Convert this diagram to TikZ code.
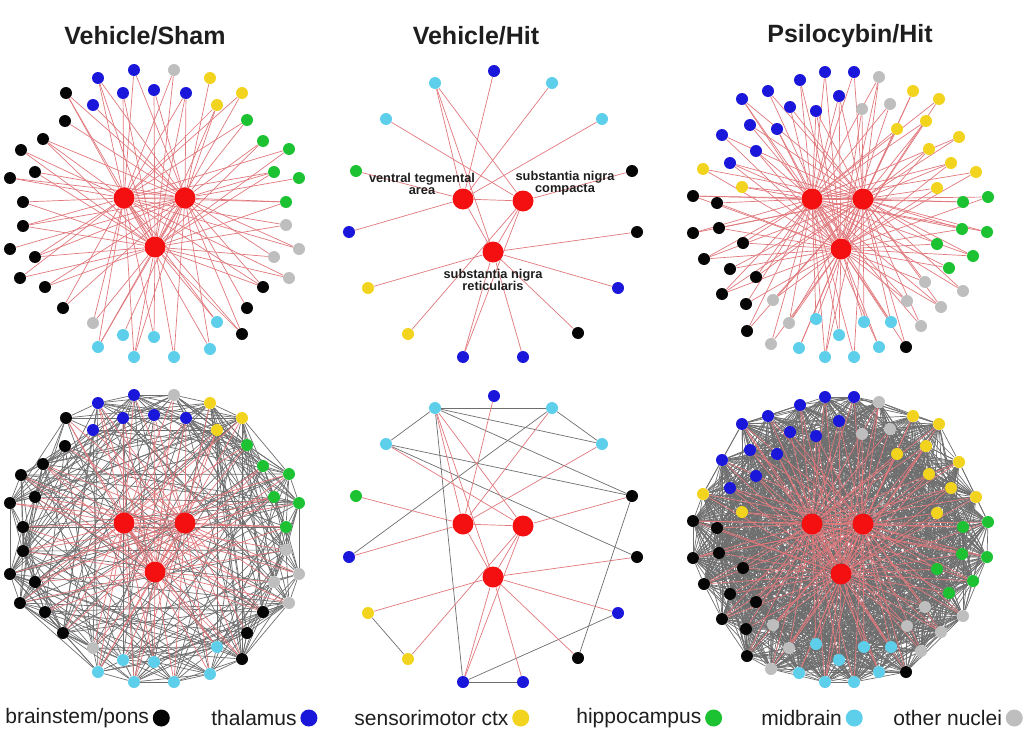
\documentclass[tikz,border=0pt]{standalone}
\usepackage{fontspec}
\setmainfont{Liberation Sans}
\usetikzlibrary{positioning,backgrounds}
\definecolor{Brain}{HTML}{050505}
\definecolor{Thal}{HTML}{1A16DA}
\definecolor{Sens}{HTML}{F2D41E}
\definecolor{Hipp}{HTML}{1DC232}
\definecolor{Midb}{HTML}{5DCFEB}
\definecolor{Other}{HTML}{BEBEBE}
\definecolor{Hub}{HTML}{F41010}
\definecolor{Tie}{HTML}{E0787C}
\definecolor{Mesh}{HTML}{6E6E6E}
\definecolor{Ink}{HTML}{1E1E1E}
\newcommand\shamnodes{66/93/Brain, 93/105/Thal, 98/78/Thal, 123/93/Thal, 134/70/Thal, 154/90/Thal, 174/70/Other, 186/93/Thal, 210/78/Sens, 217/105/Sens, 242/93/Sens, 247/120/Hipp, 263/141/Hipp, 289/149/Hipp, 274/172/Hipp, 299/178/Hipp, 286/202/Hipp, 286/225/Other, 299/249/Other, 274/257/Other, 289/278/Other, 263/287/Brain, 247/308/Brain, 242/334/Brain, 217/322/Midb, 210/349/Midb, 174/357/Midb, 154/337/Midb, 134/357/Midb, 123/335/Midb, 98/347/Midb, 93/323/Other, 63/308/Brain, 45/287/Brain, 20/278/Brain, 35/257/Brain, 10/249/Brain, 23/226/Brain, 23/202/Brain, 10/178/Brain, 35/172/Brain, 21/150/Brain, 43/139/Brain, 65/121/Brain}
\newcommand\hitnodes{494/71/Thal, 552/83/Midb, 602/119/Midb, 632/171/Brain, 637/232/Brain, 618/288/Thal, 578/333/Brain, 523/357/Thal, 463/357/Thal, 408/334/Sens, 368/288/Sens, 349/232/Thal, 356/171/Hipp, 386/119/Midb, 435/83/Midb}
\newcommand\psilnodes{825/72/Thal, 839/96/Thal, 854/72/Thal, 862/109/Other, 879/77/Other, 890/104/Other, 913/91/Sens, 897/129/Sens, 939/99/Sens, 926/121/Sens, 959/137/Sens, 929/149/Sens, 951/163/Sens, 976/172/Sens, 937/188/Sens, 963/202/Hipp, 988/197/Hipp, 962/229/Hipp, 987/232/Hipp, 937/244/Hipp, 973/256/Hipp, 949/268/Hipp, 925/282/Other, 963/291/Other, 907/301/Other, 941/307/Other, 921/326/Other, 906/347/Brain, 891/322/Midb, 879/347/Midb, 864/322/Midb, 854/357/Midb, 839/335/Midb, 825/357/Midb, 816/319/Midb, 799/348/Midb, 789/323/Other, 771/344/Other, 773/300/Other, 747/331/Brain, 746/304/Brain, 722/294/Brain, 756/277/Brain, 730/269/Brain, 704/259/Brain, 743/243/Brain, 719/228/Brain, 693/233/Brain, 717/203/Brain, 693/196/Brain, 742/187/Sens, 703/169/Sens, 730/163/Thal, 756/151/Thal, 722/135/Thal, 750/125/Thal, 777/129/Thal, 742/99/Thal, 790/107/Thal, 768/91/Thal, 816/111/Thal, 800/80/Thal}
\tikzset{
  dot/.style={circle,fill=#1,inner sep=0pt,minimum size=6pt},
  hub/.style={circle,fill=Hub,inner sep=0pt,minimum size=10.5pt},
  key/.style={circle,fill=#1,inner sep=0pt,minimum size=8.5pt},
  tie/.style={Tie,line width=0.35pt},
  mesh/.style={Mesh,line width=0.35pt},
  heading/.style={font=\bfseries\fontsize{12.5}{15}\selectfont,text=Ink,inner sep=0pt},
  keytext/.style={font=\fontsize{10.5}{12}\selectfont,text=Ink,anchor=west,inner sep=0pt},
  hublab/.style={font=\bfseries\fontsize{6.4}{6}\selectfont,text=Ink,align=center,inner sep=0pt}
}
\begin{document}
\begin{tikzpicture}[x=0.5pt,y=-0.5pt]
  \useasboundingbox (0,0) rectangle (1024,739);
  \foreach \x/\t [count=\i] in {145/{Vehicle/Sham},476/{Vehicle/Hit},850/{Psilocybin/Hit}}
    \node[heading] (head\i) at (\x,36) {\t};

  \foreach \x/\y/\c [count=\i] in \shamnodes {
    \node[dot=\c] (sa\i) at (\x,\y) {};
    \node[dot=\c] (sb\i) at (\x,\y+325) {};
  }
  \foreach \x/\y/\c [count=\i] in \hitnodes {
    \node[dot=\c] (ha\i) at (\x,\y) {};
    \node[dot=\c] (hb\i) at (\x,\y+325) {};
  }
  \foreach \x/\y/\c [count=\i] in \psilnodes {
    \node[dot=\c] (pa\i) at (\x,\y) {};
    \node[dot=\c] (pb\i) at (\x,\y+325) {};
  }
  \foreach \p/\dy in {a/0,b/325} {
    \node[hub] (s\p V) at (124,198+\dy) {};
    \node[hub] (s\p C) at (185,198+\dy) {};
    \node[hub] (s\p R) at (155,247+\dy) {};
    \node[hub] (h\p V) at (463,199+\dy) {};
    \node[hub] (h\p C) at (523,201+\dy) {};
    \node[hub] (h\p R) at (493,252+\dy) {};
    \node[hub] (p\p V) at (812,199+\dy) {};
    \node[hub] (p\p C) at (863,199+\dy) {};
    \node[hub] (p\p R) at (841,249+\dy) {};
  }
  \node[hublab] (vtaLab) at (422,184) {ventral tegmental\\area};
  \node[hublab] (sncLab) at (565,183) {substantia nigra\\compacta};
  \node[hublab] (snrLab) at (493,280) {substantia nigra\\reticularis};

  \begin{scope}[on background layer]
    \pgfmathsetseed{5}
    \foreach \i in {1,...,44}{\foreach \j in {\i,...,44}{
      \pgfmathtruncatemacro\k{(\j>\i)*((\j-\i<4)||(rnd<0.24))}
      \ifnum\k=1 \draw[mesh] (sb\i) -- (sb\j);\fi}}
    \foreach \i in {1,...,62}{\foreach \j in {\i,...,62}{
      \pgfmathtruncatemacro\k{(\j>\i)*((\j-\i<5)||(rnd<0.5))}
      \ifnum\k=1 \draw[mesh] (pb\i) -- (pb\j);\fi}}
    \foreach \i/\j in {15/2,2/3,14/15,15/3,15/4,14/4,14/5,2/12,15/9,11/10,9/8,9/6,4/7}
      \draw[mesh] (hb\i) -- (hb\j);

    \foreach \p in {sa,sb}{
      \foreach \i in {1,...,44}{\foreach \h [count=\m] in {V,C,R}{
        \pgfmathtruncatemacro\k{mod(\i*5+\m*3,7)}
        \ifnum\k<5 \draw[tie] (\p\i) -- (\p\h);\fi}}
      \draw[tie] (\p V) -- (\p C) -- (\p R) -- (\p V);
    }
    \foreach \p in {pa,pb}{
      \foreach \i in {1,...,62}{\foreach \h [count=\m] in {V,C,R}{
        \pgfmathtruncatemacro\k{mod(\i*3+\m*2,8)}
        \ifnum\k<6 \draw[tie] (\p\i) -- (\p\h);\fi}}
      \draw[tie] (\p V) -- (\p C) -- (\p R) -- (\p V);
    }
    \foreach \p in {ha,hb}{
      \foreach \i/\h in {1/V,15/V,15/R,15/C,14/C,2/V,3/V,13/V,4/C,12/V,5/R,11/R,6/R,10/C,7/R,9/C,9/R,8/R}
        \draw[tie] (\p\i) -- (\p\h);
      \draw[tie] (\p V) -- (\p C) -- (\p R) -- (\p V);
    }
  \end{scope}

  \foreach \x/\lab/\c [count=\i] in {5/{brainstem/pons}/Brain,211/thalamus/Thal,354/{sensorimotor ctx}/Sens,576/hippocampus/Hipp,761/midbrain/Midb,893/{other nuclei}/Other}{
    \node[keytext] (lab\i) at (\x,718) {\lab};
    \node[key=\c,right=1.5pt of lab\i] (key\i) {};
  }
\end{tikzpicture}
\end{document}
